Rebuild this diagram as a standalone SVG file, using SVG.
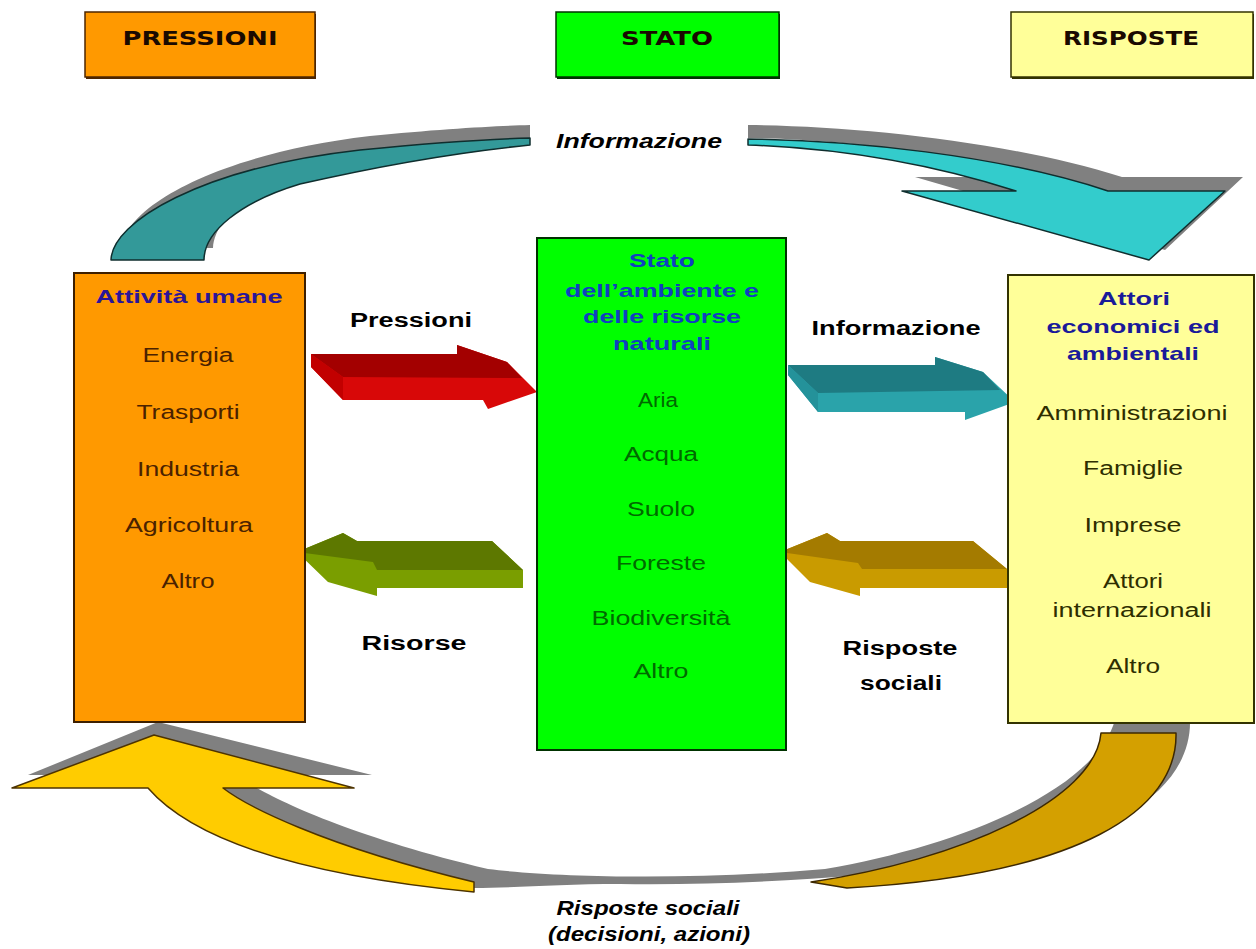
<svg xmlns="http://www.w3.org/2000/svg" width="1256" height="949" viewBox="0 0 1256 949">
<style>
.hdr{font-family:"DejaVu Sans","Liberation Sans",sans-serif;font-weight:bold;font-size:19px;text-anchor:middle;fill:#1a0a00}
.ttl{font-family:"Liberation Sans",Arial,sans-serif;font-weight:bold;font-size:19px;text-anchor:middle}
.itm{font-family:"Liberation Sans",Arial,sans-serif;font-size:20px;text-anchor:middle}
.lbl{font-family:"Liberation Sans",Arial,sans-serif;font-weight:bold;font-size:20px;text-anchor:middle;fill:#000}
.ital{font-family:"Liberation Sans",Arial,sans-serif;font-weight:bold;font-style:italic;font-size:20px;text-anchor:middle;fill:#000}
.shadow{fill:#808080}
.out{stroke-width:1.5;stroke-linejoin:round}
</style>
<rect width="1256" height="949" fill="#ffffff"/>

<g id="connectors">
  <!-- top-left teal arc -->
  <path class="shadow" d="M 122 248 C 123 210, 210 155, 370 136 C 440 129, 495 126, 530 125 L 530 139 C 450 142, 360 152, 300 172 C 245 192, 214 222, 213 248 Z"/>
  <path class="out" fill="#339999" stroke="#0f2e2e" d="M 111 260 C 112 222, 200 168, 360 150 C 430 143, 490 139, 530 138 L 530 145 C 450 153, 370 168, 300 184 C 240 202, 204 232, 204 260 Z"/>
  <!-- top-right teal arc arrow -->
  <path class="shadow" d="M 748 125 C 860 126, 1010 142, 1122 177 L 1243 177 L 1165 250 L 915 177 L 1030 177 C 960 158, 860 139, 748 138 Z"/>
  <path class="out" fill="#33cccc" stroke="#0f2e2e" d="M 748 139 C 850 140, 1000 155, 1108 191 L 1225 191 L 1149 260 L 902 191 L 1016 191 C 950 170, 860 149, 748 145 Z"/>

  <!-- bottom shadow band -->
  <path class="shadow" d="M 158 722 L 372 775 L 237 775 C 259 792, 334 832, 488 869 C 560 878, 700 880, 825 869 C 960 846, 1095 790, 1115 720 L 1190 720 C 1192 797, 1094 862, 861 875 C 780 882, 700 885, 620 884 C 560 884, 510 888, 474 888 C 330 870, 200 840, 162 775 L 28 775 Z"/>
  <!-- bottom-left yellow arrow -->
  <path class="out" fill="#ffcc00" stroke="#4d3300" d="M 154 735 L 354 788 L 223 788 C 245 805, 320 845, 474 882 L 474 892 C 330 878, 200 848, 148 788 L 12 788 Z"/>
  <!-- bottom-right gold arc -->
  <path class="out" fill="#d4a000" stroke="#3d2800" d="M 1101 733 L 1176 733 C 1178 810, 1080 875, 847 888 L 811 882 C 960 860, 1095 800, 1101 733 Z"/>

  <!-- Pressioni red arrow -->
  <g id="arrow-pressioni">
    <polygon fill="#d80808" points="311,354 457,354 457,345 507,362 537,392 488,409 483,400 343,400 311,367"/>
    <polygon fill="#a30000" points="311,354 457,354 457,345 507,362 522,378 343,377"/>
    <polygon fill="#c20000" points="311,354 343,377 343,400 311,367"/>
  </g>
  <!-- Informazione teal arrow -->
  <g id="arrow-informazione">
    <polygon fill="#2aa3aa" points="788,365 935,365 935,357 983,372 1015,402 965,420 965,412 818,412 788,375"/>
    <polygon fill="#1e7b82" points="788,365 935,365 935,357 983,372 1000,390 818,393"/>
    <polygon fill="#24929a" points="788,365 818,393 818,412 788,375"/>
  </g>
  <!-- Risorse green arrow -->
  <g id="arrow-risorse">
    <polygon fill="#7a9e00" points="297,552 343,533 357,541 492,541 523,570 523,588 377,588 377,596 328,582"/>
    <polygon fill="#5d7800" points="297,552 343,533 357,541 492,541 523,570 377,570 373,562"/>
  </g>
  <!-- Risposte sociali gold arrow -->
  <g id="arrow-risposte">
    <polygon fill="#c99b00" points="780,552 827,533 840,541 973,541 1007,569 1007,588 860,588 860,596 810,582"/>
    <polygon fill="#a47b00" points="780,552 827,533 840,541 973,541 1007,569 862,569 858,563"/>
  </g>

  <text class="ital" x="639" y="148" textLength="166" lengthAdjust="spacingAndGlyphs">Informazione</text>
  <text class="lbl" x="411" y="327" textLength="122" lengthAdjust="spacingAndGlyphs">Pressioni</text>
  <text class="lbl" x="896" y="335" textLength="169" lengthAdjust="spacingAndGlyphs">Informazione</text>
  <text class="lbl" x="414" y="650" textLength="105" lengthAdjust="spacingAndGlyphs">Risorse</text>
  <text class="lbl" x="900" y="655" textLength="115" lengthAdjust="spacingAndGlyphs">Risposte</text>
  <text class="lbl" x="901" y="690" textLength="82" lengthAdjust="spacingAndGlyphs">sociali</text>
  <text class="ital" x="648" y="915" textLength="183" lengthAdjust="spacingAndGlyphs">Risposte sociali</text>
  <text class="ital" x="649" y="941" textLength="202" lengthAdjust="spacingAndGlyphs">(decisioni, azioni)</text>
</g>

<g id="header-pressioni">
  <rect x="86" y="14" width="230" height="65" fill="#4d2600"/>
  <rect x="85" y="12" width="230" height="65" fill="#ff9900" stroke="#4d2600" stroke-width="1.5"/>
  <text class="hdr" x="200" y="45" textLength="155" lengthAdjust="spacingAndGlyphs">PRESSIONI</text>
</g>
<g id="header-stato">
  <rect x="557" y="14" width="223" height="65" fill="#003300"/>
  <rect x="556" y="12" width="223" height="65" fill="#00ff00" stroke="#003300" stroke-width="1.5"/>
  <text class="hdr" x="667" y="45" textLength="92" lengthAdjust="spacingAndGlyphs">STATO</text>
</g>
<g id="header-risposte">
  <rect x="1012" y="14" width="242" height="65" fill="#333300"/>
  <rect x="1011" y="12" width="242" height="65" fill="#ffff99" stroke="#333300" stroke-width="1.5"/>
  <text class="hdr" x="1131" y="45" textLength="136" lengthAdjust="spacingAndGlyphs">RISPOSTE</text>
</g>

<g id="node-attivita">
  <rect x="74" y="273" width="231" height="449" fill="#ff9900" stroke="#3d1f00" stroke-width="2"/>
  <text class="ttl" x="189" y="303" fill="#2a1599" textLength="187" lengthAdjust="spacingAndGlyphs">Attività umane</text>
  <g class="itm" fill="#4a2200">
    <text x="188" y="362" textLength="91" lengthAdjust="spacingAndGlyphs">Energia</text>
    <text x="188" y="419" textLength="103" lengthAdjust="spacingAndGlyphs">Trasporti</text>
    <text x="188" y="476" textLength="102" lengthAdjust="spacingAndGlyphs">Industria</text>
    <text x="189" y="532" textLength="128" lengthAdjust="spacingAndGlyphs">Agricoltura</text>
    <text x="188" y="588" textLength="53" lengthAdjust="spacingAndGlyphs">Altro</text>
  </g>
</g>

<g id="node-stato">
  <rect x="537" y="238" width="249" height="512" fill="#00ff00" stroke="#003300" stroke-width="2"/>
  <g class="ttl" fill="#1040c0">
    <text x="662" y="267" textLength="66" lengthAdjust="spacingAndGlyphs">Stato</text>
    <text x="662" y="297" textLength="194" lengthAdjust="spacingAndGlyphs">dell’ambiente e</text>
    <text x="662" y="323" textLength="158" lengthAdjust="spacingAndGlyphs">delle risorse</text>
    <text x="662" y="350" textLength="98" lengthAdjust="spacingAndGlyphs">naturali</text>
  </g>
  <g class="itm" fill="#006a00">
    <text x="658" y="407" textLength="40" lengthAdjust="spacingAndGlyphs">Aria</text>
    <text x="661" y="461" textLength="74" lengthAdjust="spacingAndGlyphs">Acqua</text>
    <text x="661" y="516" textLength="68" lengthAdjust="spacingAndGlyphs">Suolo</text>
    <text x="661" y="570" textLength="90" lengthAdjust="spacingAndGlyphs">Foreste</text>
    <text x="661" y="625" textLength="139" lengthAdjust="spacingAndGlyphs">Biodiversità</text>
    <text x="661" y="678" textLength="55" lengthAdjust="spacingAndGlyphs">Altro</text>
  </g>
</g>

<g id="node-attori">
  <rect x="1008" y="275" width="246" height="448" fill="#ffff99" stroke="#333300" stroke-width="2"/>
  <g class="ttl" fill="#1a1a99">
    <text x="1134" y="305" textLength="72" lengthAdjust="spacingAndGlyphs">Attori</text>
    <text x="1133" y="333" textLength="173" lengthAdjust="spacingAndGlyphs">economici ed</text>
    <text x="1133" y="360" textLength="132" lengthAdjust="spacingAndGlyphs">ambientali</text>
  </g>
  <g class="itm" fill="#2e2e00">
    <text x="1132" y="420" textLength="191" lengthAdjust="spacingAndGlyphs">Amministrazioni</text>
    <text x="1133" y="475" textLength="100" lengthAdjust="spacingAndGlyphs">Famiglie</text>
    <text x="1133" y="532" textLength="97" lengthAdjust="spacingAndGlyphs">Imprese</text>
    <text x="1133" y="588" textLength="60" lengthAdjust="spacingAndGlyphs">Attori</text>
    <text x="1132" y="617" textLength="159" lengthAdjust="spacingAndGlyphs">internazionali</text>
    <text x="1133" y="673" textLength="54" lengthAdjust="spacingAndGlyphs">Altro</text>
  </g>
</g>
</svg>
